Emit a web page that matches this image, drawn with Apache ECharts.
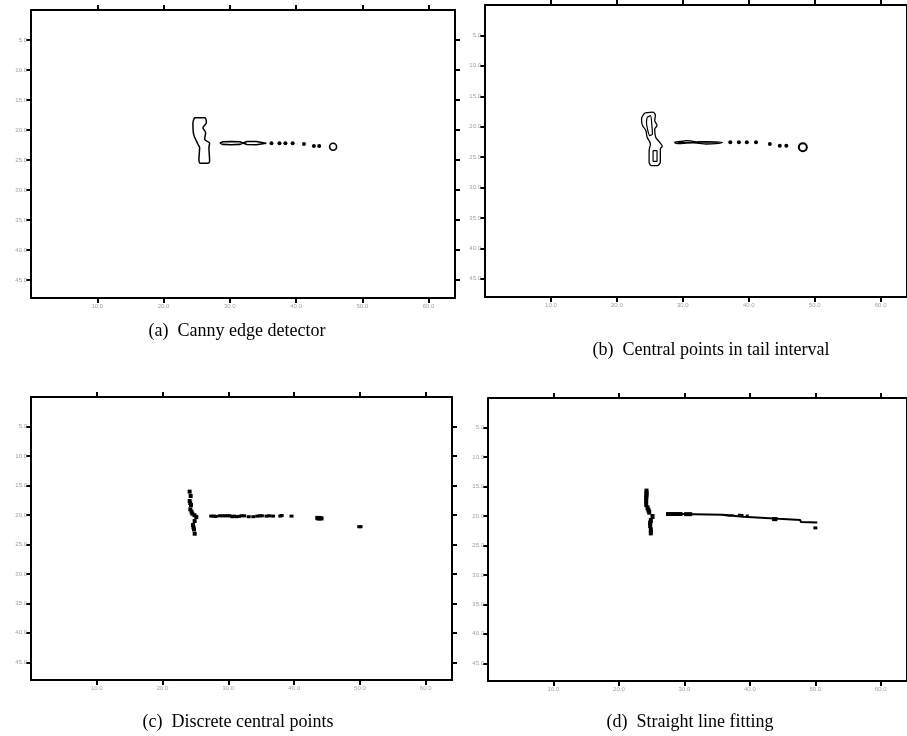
<!DOCTYPE html>
<html><head><meta charset="utf-8">
<script src="https://cdn.jsdelivr.net/npm/echarts@6/dist/echarts.min.js"></script>
<style>html,body{margin:0;padding:0;background:#fff}#c{width:907px;height:736px}</style>
</head><body><div id="c"></div>
<script>
// ---- axes / labels ----
const xTickValues = [10, 20, 30, 40, 50, 60];
const xTickLabels = ['10.0', '20.0', '30.0', '40.0', '50.0', '60.0'];
const yTickValues = [5, 10, 15, 20, 25, 30, 35, 40, 45];
const yTickLabels = ['5.0', '10.0', '15.0', '20.0', '25.0', '30.0', '35.0', '40.0', '45.0'];
const captions = ['(a)  Canny edge detector', '(b)  Central points in tail interval',
                  '(c)  Discrete central points', '(d)  Straight line fitting'];

// ---- (a) Canny edge detector ----
const aBlob = [[24.70,17.95],[26.21,17.95],[26.47,18.78],[25.95,19.62],[26.36,20.45],[26.21,21.55],
  [26.96,22.22],[26.86,22.95],[26.96,25.17],[26.71,25.55],[25.56,25.55],[25.35,24.88],[25.45,22.95],
  [25.20,22.38],[24.55,20.72],[24.44,18.78],[24.70,17.95]];
const aTail1 = [[28.5,22.17],[29.0,21.97],[30.2,21.92],[31.5,21.95],[32.0,22.17],[31.5,22.40],[30.2,22.45],[29.0,22.40],[28.5,22.17]];
const aTail2 = [[32.0,22.17],[32.6,21.92],[34.0,21.92],[35.5,22.20],[34.0,22.45],[32.6,22.42],[32.0,22.17]];
const aDots = [[36.3,22.2],[37.5,22.2],[38.4,22.2],[39.5,22.2],[41.2,22.35],[42.7,22.67],[43.5,22.67]];
const aRing = [[45.6,22.8]];

// ---- (b) Central points in tail interval ----
const bBlobOuter = [[24.24,17.73],[25.49,17.62],[25.84,18.17],[25.74,18.99],[26.09,19.82],[25.74,20.37],
  [25.89,21.74],[26.49,22.57],[26.89,23.22],[26.59,23.66],[26.59,25.86],[26.09,26.41],[25.24,26.41],
  [24.89,25.86],[24.89,23.94],[25.09,22.84],[24.59,21.74],[24.39,20.64],[23.89,19.82],[23.74,18.72],[24.24,17.73]];
const bBlobInnerTop = [[24.59,18.45],[25.09,18.17],[25.29,19.54],[25.39,21.19],[24.99,21.47],[24.64,20.37],[24.49,19.27],[24.59,18.45]];
const bBlobInnerBottom = [[25.49,23.94],[26.09,23.94],[26.09,25.70],[25.49,25.70],[25.49,23.94]];
const bTail = [[28.7,22.6],[29.3,22.45],[30.0,22.40],[30.5,22.30],[31.2,22.35],[32.0,22.50],[33.5,22.45],
  [35.0,22.50],[36.0,22.60],[35.0,22.80],[33.5,22.85],[32.5,22.75],[31.5,22.65],[30.0,22.75],[29.2,22.80],[28.7,22.6]];
const bTailInner = [[29.2,22.6],[31.0,22.55],[32.5,22.6],[35.3,22.65]];
const bDots = [[37.2,22.56],[38.5,22.56],[39.7,22.56],[41.1,22.56],[43.2,22.84],[44.7,23.12],[45.7,23.12]];
const bRing = [[48.2,23.39]];

// ---- (c) Discrete central points ----
const cVertical = [[24.12,16.05],[24.27,16.79],[24.12,17.64],[24.20,18.0],[24.32,18.32],[24.22,19.05],
  [24.40,19.45],[24.52,19.79],[24.85,20.05],[25.13,20.36],[24.88,21.04],[24.63,21.72],[24.70,22.1],
  [24.78,22.45],[24.88,23.19]];
const cHorizontal = [[27.4,20.2],[27.8,20.2],[28.1,20.25],[28.7,20.15],[29.1,20.15],[29.5,20.15],[29.9,20.15],
  [30.2,20.15],[30.6,20.3],[30.9,20.2],[31.2,20.3],[31.6,20.25],[32.0,20.15],[32.4,20.15],[33.1,20.3],
  [33.8,20.3],[34.4,20.2],[34.8,20.15],[35.1,20.15],[35.8,20.2],[36.2,20.15],[36.8,20.2],[37.9,20.2],
  [38.1,20.1],[39.6,20.2]];
const cBlob = [[43.6,20.5],[43.9,20.55],[44.1,20.6],[43.7,20.6]];
const cEnd = [[49.9,22.0],[50.1,22.0]];

// ---- (d) Straight line fitting ----
const dVertical = [[24.21,15.79],[24.21,16.15],[24.21,16.52],[24.16,16.95],[24.16,17.38],[24.16,18.06],
  [24.36,18.63],[24.50,19.0],[24.62,19.36],[25.13,20.10],[24.87,20.78],[24.77,21.2],[24.77,21.64],
  [24.87,22.37],[24.87,22.88]];
const dLine = [[27.2,19.65],[31.4,19.70],[31.5,19.80],[35.8,19.80],[35.8,20.05],[39.0,20.15],[39.1,20.45],
  [44.4,20.50],[44.5,20.65],[47.7,20.70],[47.8,21.05],[50.3,21.10]];
const dThick1 = [[27.2,19.68],[29.7,19.68]];
const dThick2 = [[29.95,19.7],[31.2,19.7]];
const dThick3 = [[43.4,20.55],[44.2,20.55]];
const dScribble = [[36.1,19.85],[36.5,19.9],[36.9,19.95],[37.3,19.9],[38.4,19.8],[38.8,19.85],[39.6,19.93]];
const dEnd = [[50.0,22.03]];

// ---- layout ----
const grids = [
  {left: 31, top: 10, width: 424, height: 288},
  {left: 485, top: 5, width: 427, height: 292},
  {left: 31, top: 397, width: 421, height: 283},
  {left: 488, top: 398, width: 420, height: 283}
];
const captionPos = [[237, 331], [711, 350], [238, 722], [690, 722]];

const axisLineStyle = {show: true, onZero: false, lineStyle: {color: '#000', width: 2}};
const tickStyle = {length: 5, lineStyle: {color: '#000', width: 2}};
const xAxes = [], yAxes = [];
grids.forEach((g, i) => {
  xAxes.push({type: 'value', gridIndex: i, position: 'bottom', min: 0, max: 64,
    axisLine: axisLineStyle, splitLine: {show: false},
    axisTick: Object.assign({show: true, customValues: xTickValues}, tickStyle),
    axisLabel: {customValues: xTickValues, fontSize: 6, color: '#a0a0a0', margin: 5,
      formatter: v => xTickLabels[xTickValues.indexOf(v)]}});
  xAxes.push({type: 'value', gridIndex: i, position: 'top', min: 0, max: 64,
    axisLine: axisLineStyle, splitLine: {show: false},
    axisTick: Object.assign({show: true, customValues: xTickValues}, tickStyle),
    axisLabel: {show: false}});
  yAxes.push({type: 'value', gridIndex: i, position: 'left', inverse: true, min: 0, max: 48,
    axisLine: axisLineStyle, splitLine: {show: false},
    axisTick: Object.assign({show: true, customValues: yTickValues}, tickStyle),
    axisLabel: {customValues: yTickValues, fontSize: 6, color: '#a0a0a0', margin: 4,
      formatter: v => yTickLabels[yTickValues.indexOf(v)]}});
  yAxes.push({type: 'value', gridIndex: i, position: 'right', inverse: true, min: 0, max: 48,
    axisLine: axisLineStyle, splitLine: {show: false},
    axisTick: Object.assign({show: true, customValues: yTickValues}, tickStyle),
    axisLabel: {show: false}});
});

function line(panel, data, width, smooth) {
  return {type: 'line', xAxisIndex: panel * 2, yAxisIndex: panel * 2, data: data,
    showSymbol: false, symbol: 'none', smooth: smooth || false, silent: true,
    lineStyle: {color: '#000', width: width}};
}
function dots(panel, data, symbol, size) {
  return {type: 'scatter', xAxisIndex: panel * 2, yAxisIndex: panel * 2, data: data,
    symbol: symbol, symbolSize: size, silent: true,
    itemStyle: {color: '#000', opacity: 1}};
}
function ring(panel, data, size, border) {
  return {type: 'scatter', xAxisIndex: panel * 2, yAxisIndex: panel * 2, data: data,
    symbol: 'circle', symbolSize: size, silent: true, z: 5,
    itemStyle: {color: '#fff', borderColor: '#000', borderWidth: border, opacity: 1}};
}

const series = [
  line(0, aBlob, 1.5, 0.3), line(0, aTail1, 1.6), line(0, aTail2, 1.6),
  dots(0, aDots, 'circle', 4), ring(0, aRing, 7, 1.6),
  line(1, bBlobOuter, 1.3, 0.3), line(1, bBlobInnerTop, 1.2, 0.3), line(1, bBlobInnerBottom, 1.2),
  line(1, bTail, 1.3, 0.3), line(1, bTailInner, 1.1),
  dots(1, bDots, 'circle', 4), ring(1, bRing, 8, 2),
  dots(2, cVertical, 'rect', [4, 4]), dots(2, cHorizontal, 'rect', [4, 3]),
  dots(2, cBlob, 'rect', [5, 4]), dots(2, cEnd, 'rect', [4, 3]),
  dots(3, dVertical, 'rect', [4, 5]), line(3, dLine, 2),
  line(3, dThick1, 4), line(3, dThick2, 4), line(3, dThick3, 4),
  dots(3, dScribble, 'rect', [3, 2]), dots(3, dEnd, 'rect', [4, 3])
];

const chart = echarts.init(document.getElementById('c'), null, {renderer: 'canvas'});
chart.setOption({
  animation: false,
  backgroundColor: '#fff',
  grid: grids,
  xAxis: xAxes,
  yAxis: yAxes,
  series: series,
  graphic: captions.map((t, i) => ({type: 'text', x: captionPos[i][0], y: captionPos[i][1],
    style: {text: t, font: '18px "Liberation Serif", serif', fill: '#000', align: 'center', verticalAlign: 'middle'}}))
});
</script>
</body></html>
